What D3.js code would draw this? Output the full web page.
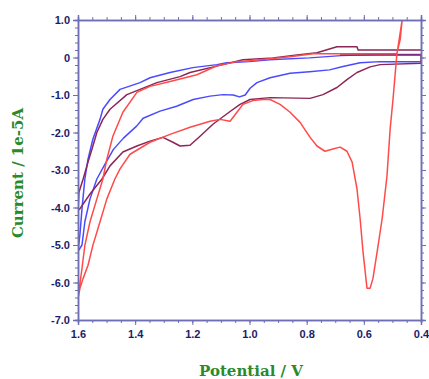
<!DOCTYPE html>
<html><head><meta charset="utf-8">
<script src="https://cdn.jsdelivr.net/npm/d3@7"></script>
<style>
body{margin:0;background:#fff;}
svg{display:block;}
</style></head>
<body>
<svg id="chart" width="429" height="379"></svg>
<script>
// ---- data (Potential / V, Current / 1e-5 A) ----
const xTickValues = [1.6, 1.4, 1.2, 1.0, 0.8, 0.6, 0.4];
const xTickLabels = ["1.6", "1.4", "1.2", "1.0", "0.8", "0.6", "0.4"];
const yTickValues = [1, 0, -1, -2, -3, -4, -5, -6, -7];
const yTickLabels = ["1.0", "0", "-1.0", "-2.0", "-3.0", "-4.0", "-5.0", "-6.0", "-7.0"];

const bluePotential = [0.40,0.55,0.68,0.79,0.93,1.00,1.08,1.114,1.198,1.278,1.348,1.383,1.453,1.488,1.513,1.523,1.548,1.565,1.576,1.586,1.593,1.60,
  1.586,1.576,1.558,1.534,1.506,1.476,1.441,1.395,1.372,1.313,1.255,1.197,1.138,1.093,1.057,1.035,1.015,0.998,0.974,0.928,0.858,0.79,0.72,0.673,0.613,0.543,0.40];
const blueCurrent = [0.08,0.08,0.05,-0.01,-0.06,-0.11,-0.14,-0.19,-0.27,-0.40,-0.54,-0.67,-0.85,-1.12,-1.38,-1.65,-2.18,-2.71,-3.24,-4.03,-4.70,-5.17,
  -5.00,-4.38,-3.77,-3.24,-2.85,-2.45,-2.15,-1.83,-1.62,-1.43,-1.30,-1.12,-1.03,-0.99,-1.00,-1.05,-1.00,-0.82,-0.67,-0.54,-0.42,-0.38,-0.33,-0.24,-0.14,-0.11,-0.11];

const maroonPotential = [0.40,0.62,0.624,0.694,0.729,0.764,0.834,0.918,1.023,1.093,1.208,1.243,1.324,1.383,1.429,1.488,1.513,1.534,1.551,1.565,1.582,1.597,1.60,
  1.593,1.558,1.516,1.488,1.443,1.394,1.348,1.303,1.268,1.243,1.208,1.173,1.128,1.068,1.033,0.998,0.928,0.788,0.743,0.694,0.659,0.624,0.578,0.543,0.40,0.40,0.683];
const maroonCurrent = [0.20,0.20,0.285,0.285,0.205,0.126,0.07,-0.01,-0.06,-0.19,-0.40,-0.51,-0.67,-0.85,-0.99,-1.38,-1.65,-2.00,-2.44,-2.79,-3.24,-3.60,-4.08,
  -4.03,-3.64,-3.24,-2.89,-2.52,-2.36,-2.23,-2.13,-2.26,-2.36,-2.34,-2.10,-1.78,-1.44,-1.25,-1.12,-1.07,-1.09,-0.99,-0.80,-0.59,-0.40,-0.25,-0.19,-0.15,0.07,0.07];

const redPotential = [0.462,0.466,0.473,0.484,0.498,0.508,0.519,0.536,0.550,0.568,0.578,0.589,0.603,0.613,0.624,0.641,0.659,0.683,0.708,0.736,0.764,0.788,0.823,0.858,0.893,0.928,0.953,0.988,1.023,1.044,1.068,1.103,1.138,1.208,1.278,1.348,1.418,1.453,1.471,1.499,1.523,1.548,1.565,1.582,1.593,1.60,
  1.586,1.576,1.558,1.534,1.513,1.499,1.478,1.443,1.394,1.348,1.278,1.184,1.114,1.044,0.963,0.858,0.778,0.683,0.578,0.484,0.466,0.462];
const redCurrent = [1.30,1.00,0.47,0.126,-1.12,-1.91,-3.16,-4.30,-5.01,-5.89,-6.15,-6.15,-5.17,-4.30,-3.50,-2.79,-2.50,-2.39,-2.44,-2.50,-2.36,-2.13,-1.73,-1.46,-1.25,-1.12,-1.12,-1.15,-1.25,-1.46,-1.70,-1.65,-1.70,-1.86,-2.05,-2.26,-2.58,-2.97,-3.24,-3.77,-4.38,-5.01,-5.54,-5.89,-6.15,-6.42,
  -5.62,-5.01,-4.38,-3.77,-3.24,-2.71,-2.10,-1.46,-0.93,-0.77,-0.64,-0.46,-0.22,-0.11,-0.06,0.02,0.10,0.10,0.10,0.10,1.00,1.30];

const seriesNames = ["blue", "maroon", "red"];
const seriesColors = ["#4a4aff", "#8c2656", "#ff4a4a"];

// ---- drawing ----
const svg = d3.select("#chart");
const L = 78, R = 421, T = 20, B = 320;
const x = d3.scaleLinear().domain([1.6, 0.4]).range([L, R]);
const y = d3.scaleLinear().domain([-7, 1]).range([B, T]);
const axisColor = "#6e6eb4";
const labelColor = "#1c1c6a";

svg.append("defs").append("clipPath").attr("id", "clip")
  .append("rect").attr("x", L).attr("y", T).attr("width", R - L).attr("height", B - T);

const series = [
  {p: bluePotential, c: blueCurrent},
  {p: maroonPotential, c: maroonCurrent},
  {p: redPotential, c: redCurrent}
];
const line = d3.line().x(d => x(d[0])).y(d => y(d[1]));
const g = svg.append("g").attr("clip-path", "url(#clip)");
series.forEach((s, i) => {
  const pts = s.p.map((v, k) => [v, s.c[k]]);
  g.append("path").datum(pts)
    .attr("d", line)
    .attr("fill", "none")
    .attr("stroke", seriesColors[i])
    .attr("stroke-width", 1.5)
    .attr("stroke-linejoin", "round")
    .attr("class", "series-" + seriesNames[i]);
});

function styleAxis(sel) {
  sel.select(".domain").attr("stroke", axisColor).attr("stroke-width", 1.5);
  sel.selectAll(".tick line").attr("stroke", axisColor).attr("stroke-width", 1);
  sel.selectAll("text").attr("fill", labelColor)
    .style("font-family", "'Liberation Sans Narrow', 'Arial Narrow', 'Liberation Sans', sans-serif")
    .style("font-weight", "bold").style("font-size", "11px");
}

const xMinor = d3.range(0, 25).map(i => 1.6 - i * 0.05);
const yMinor = d3.range(0, 41).map(i => 1 - i * 0.2);

// bottom
svg.append("g").attr("transform", `translate(0,${B})`)
  .call(d3.axisBottom(x).tickValues(xMinor).tickSize(3).tickFormat(""))
  .call(styleAxis);
svg.append("g").attr("transform", `translate(0,${B})`)
  .call(d3.axisBottom(x).tickValues(xTickValues).tickSize(5).tickPadding(5)
    .tickFormat((d, i) => xTickLabels[i]))
  .call(styleAxis);
// top
svg.append("g").attr("transform", `translate(0,${T})`)
  .call(d3.axisTop(x).tickValues(xMinor).tickSize(3).tickFormat(""))
  .call(styleAxis);
svg.append("g").attr("transform", `translate(0,${T})`)
  .call(d3.axisTop(x).tickValues(xTickValues).tickSize(5).tickFormat(""))
  .call(styleAxis);
// left
svg.append("g").attr("transform", `translate(${L},0)`)
  .call(d3.axisLeft(y).tickValues(yMinor).tickSize(3).tickFormat(""))
  .call(styleAxis);
svg.append("g").attr("transform", `translate(${L},0)`)
  .call(d3.axisLeft(y).tickValues(yTickValues).tickSize(5).tickPadding(3)
    .tickFormat((d, i) => yTickLabels[i]))
  .call(styleAxis);
// right
svg.append("g").attr("transform", `translate(${R},0)`)
  .call(d3.axisRight(y).tickValues(yMinor).tickSize(3).tickFormat(""))
  .call(styleAxis);
svg.append("g").attr("transform", `translate(${R},0)`)
  .call(d3.axisRight(y).tickValues(yTickValues).tickSize(5).tickFormat(""))
  .call(styleAxis);

// titles
const titleFont = "'DejaVu Serif', 'Liberation Serif', serif";
svg.append("text").attr("x", 251).attr("y", 376)
  .attr("text-anchor", "middle").attr("fill", "#2a8a2a")
  .style("font-family", titleFont).style("font-weight", "bold").style("font-size", "15px")
  .text("Potential / V");
svg.append("text").attr("transform", "translate(23,173) rotate(-90)")
  .attr("text-anchor", "middle").attr("fill", "#2a8a2a")
  .style("font-family", titleFont).style("font-weight", "bold").style("font-size", "15px")
  .text("Current / 1e-5A");
</script>
</body></html>
